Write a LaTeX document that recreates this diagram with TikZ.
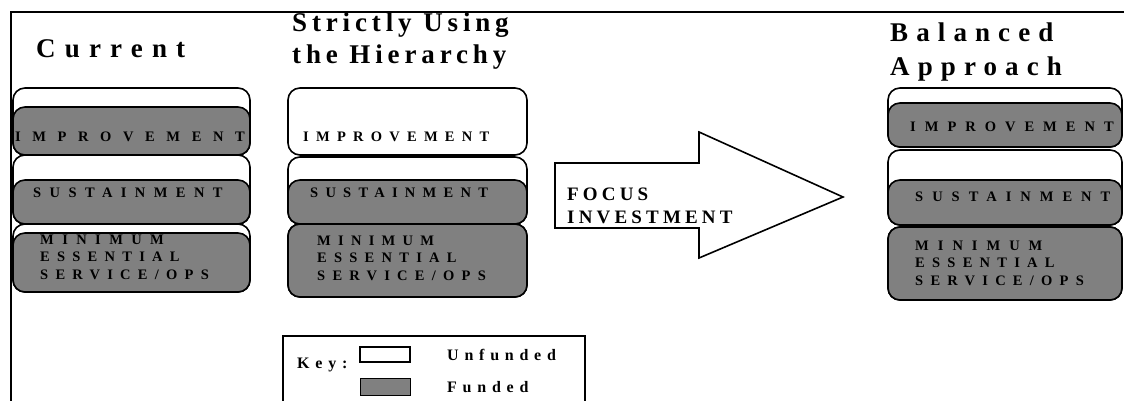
\documentclass[tikz,border=0pt]{standalone}
\usepackage{fontspec}
\setmainfont{Liberation Serif}
\newfontfamily\titlefont{Liberation Serif}[LetterSpace=30]
\newfontfamily\tierfont{Liberation Serif}[LetterSpace=50]
\newfontfamily\keyfont{Liberation Serif}[LetterSpace=36]
\newfontfamily\focusfont{Liberation Serif}[LetterSpace=22]
\usetikzlibrary{positioning}

\begin{document}
\begin{tikzpicture}[x=1pt, y=1pt,
	tier/.style = {draw, line width=1.6pt, rounded corners=12pt, fill=white, inner sep=0pt},
	funded/.style = {draw, line width=1.6pt, rounded corners=12pt, fill=black!50, inner sep=0pt, anchor=south},
	tiertext/.style = {anchor=west, align=left, inner sep=0pt, font=\tierfont\bfseries\fontsize{14.5}{17.5}\selectfont},
	heading/.style = {anchor=base west, inner sep=0pt, font=\titlefont\bfseries\fontsize{27}{33}\selectfont},
	keytext/.style = {anchor=west, inner sep=0pt, font=\keyfont\bfseries\fontsize{16}{19}\selectfont}]
				\useasboundingbox (0,0) rectangle (1124,400);
				\draw[line width=1.4pt] (11,-5) -- (11,388) -- (1130,388);
				
				% current
				\node (cur) at (36,342)[heading]{\addfontfeatures{LetterSpace=34}Current};
				\node (c1) at (131.5,278.5)[tier, minimum width=237pt, minimum height=67pt]{};
				\node (c1f) at (c1.south)[funded, minimum width=237pt, minimum height=48pt]{};
				\node (c2) at (131.5,210.5)[tier, minimum width=237pt, minimum height=69pt]{};
				\node (c2f) at (c2.south)[funded, minimum width=237pt, minimum height=44pt]{};
				\node (c3) at (131.5,142)[tier, minimum width=237pt, minimum height=68pt]{};
				\node (c3f) at (c3.south)[funded, minimum width=237pt, minimum height=59pt]{};
				\node (c1t) at (15,263)[tiertext]{\addfontfeatures{LetterSpace=80}IMPROVEMENT};
				\node (c2t) at (33,207)[tiertext]{\addfontfeatures{LetterSpace=58}SUSTAINMENT};
				\node (c3t) at (40,143)[tiertext]{\addfontfeatures{LetterSpace=58}MINIMUM\\ESSENTIAL\\SERVICE/OPS};
				
				% strictly using the hierarchy
				\node (str1) at (292,368)[heading]{\addfontfeatures{LetterSpace=18}Strictly Using};
				\node (str2) at (292,337)[heading]{\addfontfeatures{LetterSpace=18}the Hierarchy};
				\node (s1) at (407.5,278.5)[tier, minimum width=239pt, minimum height=67pt]{};
				\node (s2) at (407.5,209.5)[tier, minimum width=239pt, minimum height=67pt]{};
				\node (s2f) at (s2.south)[funded, minimum width=239pt, minimum height=44pt]{};
				\node (s3) at (407.5,139.5)[tier, minimum width=239pt, minimum height=73pt]{};
				\node (s3f) at (s3.south)[funded, minimum width=239pt, minimum height=73pt]{};
				\node (s1t) at (303,263)[tiertext]{IMPROVEMENT};
				\node (s2t) at (310,207)[tiertext]{SUSTAINMENT};
				\node (s3t) at (317,142)[tiertext]{MINIMUM\\ESSENTIAL\\SERVICE/OPS};
				
				% arrow
				\draw[line width=1.6pt, fill=white] (555,172) -- (699,172) -- (699,142) -- (843,203) -- (699,268) -- (699,237) -- (555,237) -- cycle;
				\node (focus) at (567,194)[anchor=west, align=left, inner sep=0pt, font=\focusfont\bfseries\fontsize{19}{23}\selectfont]{FOCUS\\INVESTMENT};
				
				% balanced approach
				\node (bal1) at (890,358)[heading]{Balanced};
				\node (bal2) at (890,325)[heading]{Approach};
				\node (b1) at (1005,282.5)[tier, minimum width=234pt, minimum height=59pt]{};
				\node (b1f) at (b1.south)[funded, minimum width=234pt, minimum height=44pt]{};
				\node (b2) at (1005,212.5)[tier, minimum width=234pt, minimum height=75pt]{};
				\node (b2f) at (b2.south)[funded, minimum width=234pt, minimum height=45pt]{};
				\node (b3) at (1005,136.5)[tier, minimum width=234pt, minimum height=73pt]{};
				\node (b3f) at (b3.south)[funded, minimum width=234pt, minimum height=73pt]{};
				\node (b1t) at (910,273)[tiertext]{\addfontfeatures{LetterSpace=62}IMPROVEMENT};
				\node (b2t) at (915,203)[tiertext]{\addfontfeatures{LetterSpace=62}SUSTAINMENT};
				\node (b3t) at (915,137)[tiertext]{\addfontfeatures{LetterSpace=62}MINIMUM\\ESSENTIAL\\SERVICE/OPS};
				
				% key
				\draw[line width=1.6pt] (283,-5) -- (283,64) -- (585,64) -- (585,-5);
				\node (key) at (297,35)[keytext]{Key:};
				\node (kw) at (385,45.5)[draw, line width=1.6pt, fill=white, minimum width=50pt, minimum height=15pt, inner sep=0pt]{};
				\node (kg) at (385,13.5)[draw, line width=1pt, fill=black!50, minimum width=50pt, minimum height=17pt, inner sep=0pt]{};
				\node (unf) at (447,45)[keytext]{Unfunded};
				\node (fun) at (447,13)[keytext]{Funded};
			\end{tikzpicture}
\end{document}
